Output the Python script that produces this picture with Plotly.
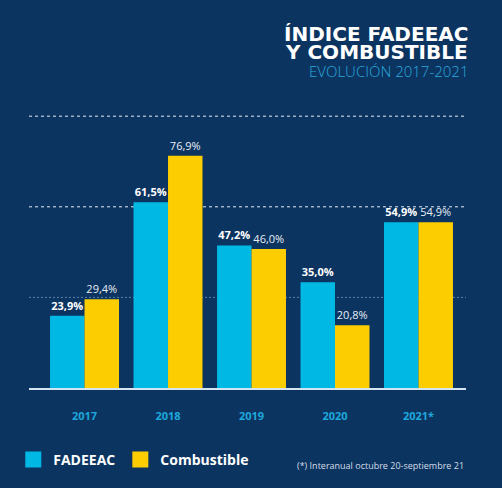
import plotly.graph_objects as go

# Data
years = ["2017", "2018", "2019", "2020", "2021*"]
fadeeac = [23.9, 61.5, 47.2, 35.0, 54.9]
combustible = [29.4, 76.9, 46.0, 20.8, 54.9]
grid_levels = [30, 60, 90]

BG = "#0c3461"
CYAN = "#00b8e4"
YELLOW = "#fccd00"
FONT = "Open Sans"
TITLE_FONT = "DejaVu Sans"

fig = go.Figure()

fig.add_trace(go.Bar(
    x=years, y=fadeeac, name="FADEEAC",
    marker=dict(color=CYAN, line=dict(width=0)),
    texttemplate="%{y:.1f}%", textposition="outside",
    textfont=dict(family=FONT, size=11, color="white", weight="bold"),
    constraintext="none", cliponaxis=False, showlegend=False,
))
fig.add_trace(go.Bar(
    x=years, y=combustible, name="Combustible",
    marker=dict(color=YELLOW, line=dict(width=0)),
    texttemplate="%{y:.1f}%", textposition="outside",
    textfont=dict(family=FONT, size=11, color="#e8eef5"),
    constraintext="none", cliponaxis=False, showlegend=False,
))

# legend-only entries so the swatches come out as bigger squares
for name, col in [("FADEEAC", CYAN), ("Combustible", YELLOW)]:
    fig.add_trace(go.Scatter(
        x=[None], y=[None], mode="markers", name=name,
        marker=dict(symbol="square", size=16, color=col),
    ))

# dashed reference lines, the lowest one is fainter
for lvl in grid_levels:
    faint = lvl == min(grid_levels)
    fig.add_shape(
        type="line", xref="paper", x0=0, x1=1, yref="y", y0=lvl, y1=lvl,
        layer="below",
        line=dict(color="#5b82ab" if faint else "#e6edf5", width=1,
                  dash="2px,2px" if faint else "3px,3px"),
    )

# titles (paper y: 1 = top of plot area at 86px, 0 = baseline at 388px)
fig.add_annotation(
    text="<b>ÍNDICE FADEEAC</b>", xref="paper", yref="paper",
    x=1.009, y=1.173, xanchor="right", yanchor="middle", showarrow=False,
    font=dict(family=TITLE_FONT, size=20, color="white", weight="bold"),
)
fig.add_annotation(
    text="<b>Y COMBUSTIBLE</b>", xref="paper", yref="paper",
    x=1.009, y=1.111, xanchor="right", yanchor="middle", showarrow=False,
    font=dict(family=TITLE_FONT, size=20, color="white", weight="bold"),
)
fig.add_annotation(
    text="EVOLUCIÓN 2017-2021", xref="paper", yref="paper",
    x=1.009, y=1.050, xanchor="right", yanchor="middle", showarrow=False,
    font=dict(family=FONT, size=15, color="#2aa8dc", weight=300),
)
fig.add_annotation(
    text="(*) Interanual octubre 20-septiembre 21", xref="paper", yref="paper",
    x=1.0, y=-0.255, xanchor="right", yanchor="middle", showarrow=False,
    font=dict(family=FONT, size=9, color="#d5dde8"),
)

fig.update_layout(
    width=502, height=488,
    paper_bgcolor=BG, plot_bgcolor=BG,
    margin=dict(l=29, r=36, t=86, b=100),
    separators=",.",
    barmode="group", bargap=0.174, bargroupgap=0,
    font=dict(family=FONT, color="white"),
    xaxis=dict(
        type="category", range=[-0.665, 4.569],
        showline=True, linecolor="#d6e4ef", linewidth=2,
        showgrid=False, ticks="", ticklabelstandoff=17,
        tickfont=dict(family=FONT, size=11, color="#1ea8dc", weight="bold"),
        fixedrange=True,
    ),
    yaxis=dict(
        range=[0, 100], showgrid=False, zeroline=False,
        showticklabels=False, fixedrange=True,
    ),
    legend=dict(
        orientation="h", x=-0.036, y=-0.238, xanchor="left", yanchor="middle",
        font=dict(family=FONT, size=14, color="white", weight="bold"),
        itemwidth=30, tracegroupgap=0, bgcolor="rgba(0,0,0,0)",
    ),
)

# drop the default 8px body margin so the figure sits at the window corner
fig.write_html("out.html", config={"displayModeBar": False},
               post_script="document.body.style.margin='0';")
